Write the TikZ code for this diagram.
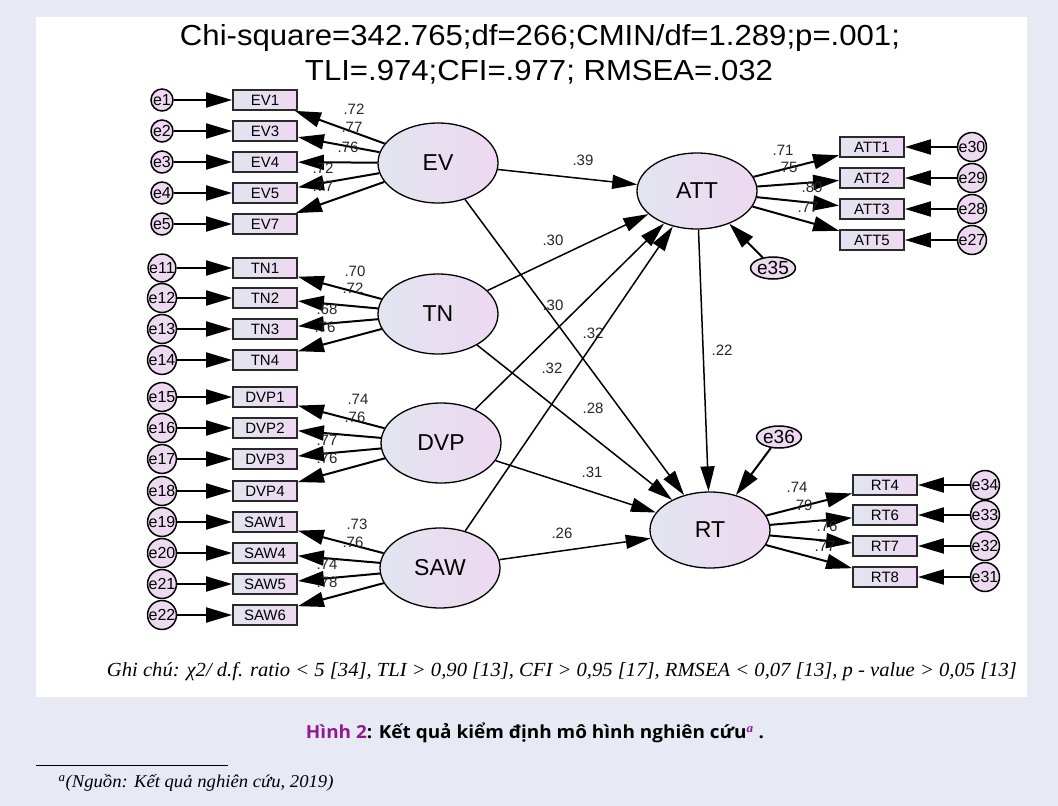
\documentclass[tikz,border=0pt]{standalone}
\usepackage{fontspec}
\setmainfont{Liberation Sans}
\newfontfamily\notefont{Liberation Serif}
\newfontfamily\capfont{Open Sans}
\usetikzlibrary{arrows.meta,shapes.geometric}

\definecolor{pagebg}{HTML}{E7EAF5}
\definecolor{lvleft}{HTML}{E1E5EF}
\definecolor{lvright}{HTML}{EED8F1}
\definecolor{errfill}{HTML}{EDDAF1}
\definecolor{hinh}{HTML}{8E1C8E}
\definecolor{boxline}{HTML}{2A2A2A}

% stretch a text horizontally to a given width, keeping its height
\newcommand\fitw[2]{\resizebox{#1}{\height}{#2}}

\tikzset{
  latent/.style={ellipse, draw=black, line width=1.3pt, minimum width=120pt,
    minimum height=80pt, inner sep=0pt, left color=lvleft, right color=lvright,
    font=\fontsize{23}{24}\selectfont},
  latentb/.style={latent, minimum height=76pt},
  ind/.style={rectangle, draw=boxline, line width=1.8pt, minimum width=64pt,
    minimum height=20pt, inner sep=0pt, left color=lvleft, right color=lvright,
    font=\fontsize{15}{16}\selectfont},
  err/.style={circle, draw=black, line width=1.5pt, minimum size=22pt,
    inner sep=0pt, fill=errfill, font=\fontsize{16}{16}\selectfont},
  bigerr/.style={ellipse, draw=black, line width=1.5pt, minimum width=34pt,
    minimum height=22pt, inner sep=0pt, fill=errfill,
    font=\fontsize{19}{19}\selectfont},
  load/.style={-{Triangle[length=26pt,width=15pt]}, line width=2pt},
  effect/.style={-{Triangle[length=25pt,width=14pt]}, line width=1.5pt},
  coef/.style={inner sep=0pt, font=\fontsize{15}{15}\selectfont, text=black!85},
}

\begin{document}
\begin{tikzpicture}[x=1pt,y=-1pt]
% page and panel
\fill[pagebg] (0,0) rectangle (1058,806);
\fill[white] (36,17) rectangle (1027,697);
\useasboundingbox (0,0) rectangle (1058,806);

% fit statistics
\node (fit1) at (540,38) {\fitw{720pt}{\fontsize{29}{30}\selectfont Chi-square=342.765;df=266;CMIN/df=1.289;p=.001;}};
\node (fit2) at (539,72) {\fitw{468pt}{\fontsize{29}{30}\selectfont TLI=.974;CFI=.977; RMSEA=.032}};

% latent constructs
\node[latent]  (EV)  at (438,163) {EV};
\node[latent]  (TN)  at (438,314) {TN};
\node[latent]  (DVP) at (441,443) {DVP};
\node[latent]  (SAW) at (440,568) {SAW};
\node[latentb] (ATT) at (697,191) {ATT};
\node[latentb] (RT)  at (710,530) {RT};

% indicators of the exogenous constructs, with their errors
\foreach \n/\e/\y in {EV1/e1/100, EV3/e2/131, EV4/e3/162, EV5/e4/193, EV7/e5/224,
                      TN1/e11/268, TN2/e12/298, TN3/e13/329, TN4/e14/360,
                      DVP1/e15/397, DVP2/e16/428, DVP3/e17/459, DVP4/e18/491,
                      SAW1/e19/522, SAW4/e20/553, SAW5/e21/584, SAW6/e22/615}{
  \node[ind] (\n) at (265,\y) {\n};
  \node[err] (\e) at (162,\y) {\e};
  \draw[load] (\e) -- (\n);
}

% indicators of the endogenous constructs, with their errors
\foreach \n/\e/\y in {ATT1/e30/147, ATT2/e29/178, ATT3/e28/209, ATT5/e27/240}{
  \node[ind] (\n) at (872,\y) {\n};
  \node[err] (\e) at (972,\y) {\e};
  \draw[load] (\e) -- (\n);
  \draw[load] (ATT) -- (\n);
}
\foreach \n/\e/\y in {RT4/e34/485, RT6/e33/515, RT7/e32/546, RT8/e31/577}{
  \node[ind] (\n) at (885,\y) {\n};
  \node[err] (\e) at (985,\y) {\e};
  \draw[load] (\e) -- (\n);
  \draw[load] (RT) -- (\n);
}

% factor loadings of the exogenous constructs
\foreach \n in {EV1,EV3,EV4,EV5,EV7}{\draw[load] (EV) -- (\n);}
\foreach \n in {TN1,TN2,TN3,TN4}{\draw[load] (TN) -- (\n);}
\foreach \n in {DVP1,DVP2,DVP3,DVP4}{\draw[load] (DVP) -- (\n);}
\foreach \n in {SAW1,SAW4,SAW5,SAW6}{\draw[load] (SAW) -- (\n);}

% structural paths
\draw[effect] (EV)  -- (ATT);
\draw[effect] (EV)  -- (RT);
\draw[effect] (TN)  -- (ATT);
\draw[effect] (TN)  -- (RT);
\draw[effect] (DVP) -- (ATT);
\draw[effect] (DVP) -- (RT);
\draw[effect] (SAW) -- (ATT);
\draw[effect] (SAW) -- (RT);
\draw[effect] (ATT) -- (RT);

% disturbances
\node[bigerr] (e35) at (773,268) {e35};
\node[bigerr] (e36) at (779,437) {e36};
\draw[load] (e35) -- (ATT);
\draw[load] (e36) -- (RT);

% loading estimates
\node[coef] at (354,109) {.72};
\node[coef] at (352,127) {.77};
\node[coef] at (348,147) {.76};
\node[coef] at (323,168) {.72};
\node[coef] at (323,186) {.77};
\node[coef] at (355,271) {.70};
\node[coef] at (353,288) {.72};
\node[coef] at (327,309) {.68};
\node[coef] at (325,327) {.76};
\node[coef] at (358,399) {.74};
\node[coef] at (355,417) {.76};
\node[coef] at (327,440) {.77};
\node[coef] at (327,458) {.76};
\node[coef] at (357,524) {.73};
\node[coef] at (353,542) {.76};
\node[coef] at (327,564) {.74};
\node[coef] at (327,582) {.78};
\node[coef] at (783,150) {.71};
\node[coef] at (787,167) {.75};
\node[coef] at (812,187) {.80};
\node[coef] at (808,207) {.77};
\node[coef] at (797,487) {.74};
\node[coef] at (802,505) {.79};
\node[coef] at (827,526) {.76};
\node[coef] at (825,546) {.77};

% path estimates
\node[coef] at (583,160) {.39};
\node[coef] at (553,240) {.30};
\node[coef] at (553,305) {.30};
\node[coef] at (593,333) {.32};
\node[coef] at (552,368) {.32};
\node[coef] at (593,408) {.28};
\node[coef] at (592,472) {.31};
\node[coef] at (562,533) {.26};
\node[coef] at (722,350) {.22};

% note, caption and footnote
\node (note) at (562,672) {\fitw{910pt}{\notefont\itshape\fontsize{20}{21}\selectfont Ghi chú: χ2/ d.f. ratio < 5 [34], TLI > 0,90 [13], CFI > 0,95 [17], RMSEA < 0,07 [13], p - value > 0,05 [13]}};
\node (caption) at (535,733) {\fitw{458pt}{\capfont\fontsize{18}{20}\selectfont\bfseries\textcolor{hinh}{Hình 2}: Kết quả kiểm định mô hình nghiên cứu\textsuperscript{\textcolor{hinh}{\notefont\itshape a}} .}};
\draw[line width=0.8pt] (36,765) -- (228,765);
\node[anchor=west] (source) at (55,783) {\fitw{275pt}{\notefont\itshape\fontsize{18}{19}\selectfont\textsuperscript{a}(Nguồn: Kết quả nghiên cứu, 2019)}};
\end{tikzpicture}
\end{document}
